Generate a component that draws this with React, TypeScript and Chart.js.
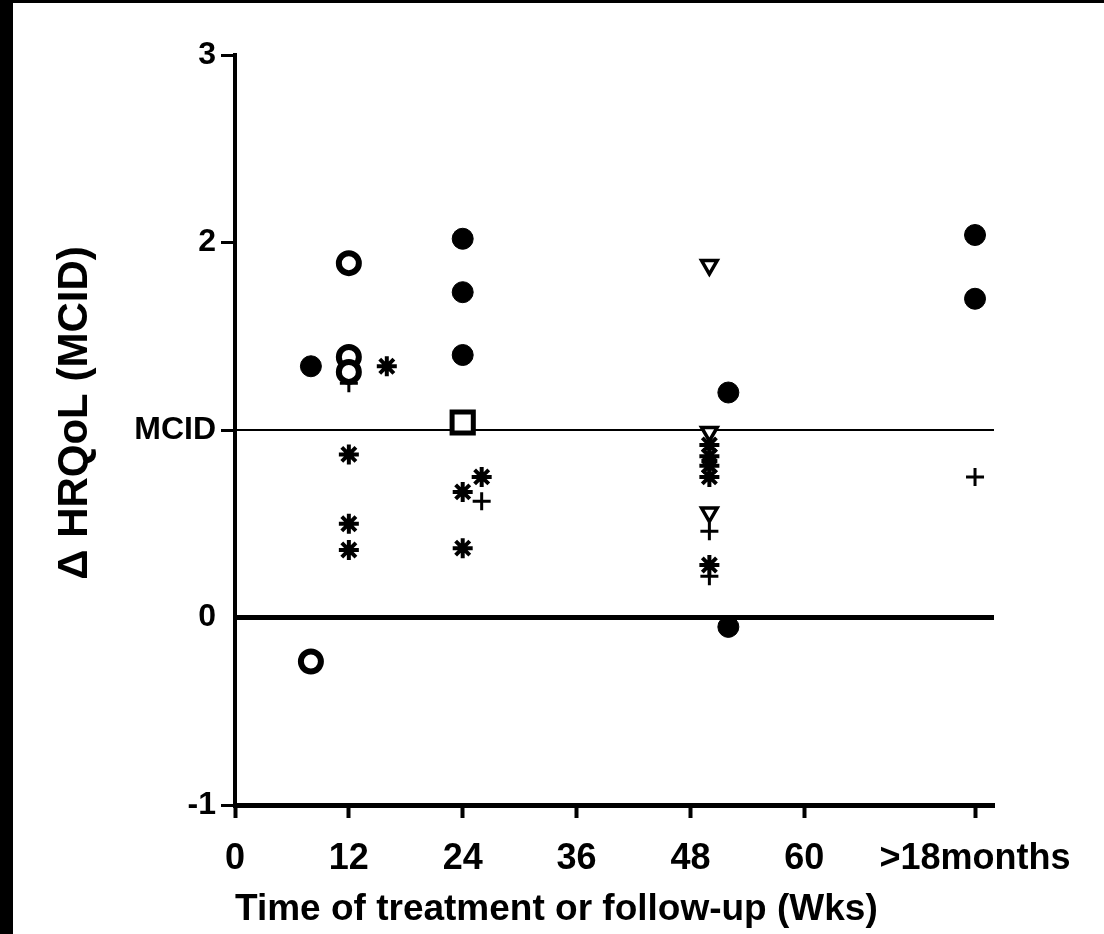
import { useEffect, useRef } from "react";
import { Chart, registerables } from "chart.js";

Chart.register(...registerables);

// Axis ticks: weeks on x (last tick is the 78-week / 18-month mark), MCID units on y
const xTickValues = [0, 12, 24, 36, 48, 60, 78];
const xTickLabels = ["0", "12", "24", "36", "48", "60", ">18months"];
const yTickValues = [-1, 0, 1, 2, 3];
const yTickLabels = ["-1", "0", "MCID", "2", "3"];

const xTitle = "Time of treatment or follow-up (Wks)";
const yTitle = "Δ HRQoL (MCID)";

const weekMin = 0;
const weekMax = 80;
const valueMin = -1;
const valueMax = 3;
const mcidLevel = 1;
const baselineLevel = 0;

// Study results grouped by marker
const filledCircleWeeks = [8, 24, 24, 24, 52, 52, 78, 78];
const filledCircleValues = [1.34, 2.02, 1.735, 1.4, 1.2, -0.05, 2.04, 1.7];

const openCircleWeeks = [8, 12, 12, 12];
const openCircleValues = [-0.235, 1.89, 1.39, 1.31];

const asteriskWeeks = [16, 12, 12, 12, 24, 24, 26, 50, 50, 50, 50, 50];
const asteriskValues = [1.34, 0.87, 0.5, 0.36, 0.67, 0.37, 0.75, 0.92, 0.86, 0.81, 0.75, 0.28];

const plusWeeks = [12, 26, 50, 50, 78];
const plusValues = [1.25, 0.62, 0.46, 0.22, 0.75];

const squareWeeks = [24];
const squareValues = [1.04];

const triangleWeeks = [50, 50, 50];
const triangleValues = [1.88, 0.99, 0.56];

const FONT = "'Liberation Sans', Arial, Helvetica, sans-serif";
const INK = "#000000";

const zip = (xs: number[], ys: number[]) => xs.map((x, i) => ({ x, y: ys[i] }));

// Vertical axis title, drawn a little above the middle of the plot height
const valueAxisTitle = {
  id: "valueAxisTitle",
  afterDraw(chart: any) {
    const { ctx, chartArea } = chart;
    ctx.save();
    ctx.translate(62, (chartArea.top + chartArea.bottom) / 2 - 17);
    ctx.rotate(-Math.PI / 2);
    ctx.font = `bold 42px ${FONT}`;
    ctx.fillStyle = INK;
    ctx.textAlign = "center";
    ctx.textBaseline = "middle";
    ctx.fillText(yTitle, 0, 0);
    ctx.restore();
  },
};

export default function App() {
  const canvasRef = useRef<HTMLCanvasElement | null>(null);

  useEffect(() => {
    const canvas = canvasRef.current;
    if (!canvas) return;

    const chart = new Chart(canvas, {
      type: "scatter",
      data: {
        datasets: [
          {
            label: "filled circle",
            data: zip(filledCircleWeeks, filledCircleValues),
            pointStyle: "circle",
            pointRadius: 10.5,
            pointBackgroundColor: INK,
            pointBorderColor: INK,
            pointBorderWidth: 1,
          },
          {
            label: "open circle",
            data: zip(openCircleWeeks, openCircleValues),
            pointStyle: "circle",
            pointRadius: 10,
            pointBackgroundColor: "#ffffff",
            pointBorderColor: INK,
            pointBorderWidth: 6,
          },
          {
            label: "square",
            data: zip(squareWeeks, squareValues),
            pointStyle: "rect",
            pointRadius: 15,
            pointBackgroundColor: "#ffffff",
            pointBorderColor: INK,
            pointBorderWidth: 5,
          },
          {
            label: "triangle",
            data: zip(triangleWeeks, triangleValues),
            pointStyle: "triangle",
            pointRotation: 180,
            pointRadius: 9,
            pointBackgroundColor: "#ffffff",
            pointBorderColor: INK,
            pointBorderWidth: 3.5,
          },
          {
            label: "asterisk",
            data: zip(asteriskWeeks, asteriskValues),
            pointStyle: "star",
            pointRadius: 10,
            pointBackgroundColor: INK,
            pointBorderColor: INK,
            pointBorderWidth: 4,
          },
          {
            label: "plus",
            data: zip(plusWeeks, plusValues),
            pointStyle: "cross",
            pointRadius: 9,
            pointBackgroundColor: INK,
            pointBorderColor: INK,
            pointBorderWidth: 3,
          },
          {
            type: "line",
            label: "MCID",
            data: [
              { x: weekMin, y: mcidLevel },
              { x: weekMax, y: mcidLevel },
            ],
            borderColor: INK,
            borderWidth: 2,
            pointRadius: 0,
            fill: false,
          },
          {
            type: "line",
            label: "baseline",
            data: [
              { x: weekMin, y: baselineLevel },
              { x: weekMax, y: baselineLevel },
            ],
            borderColor: INK,
            borderWidth: 5,
            pointRadius: 0,
            fill: false,
          },
        ],
      },
      options: {
        responsive: false,
        animation: false,
        devicePixelRatio: 1,
        layout: { padding: { top: 52, right: 110, left: 0, bottom: 0 } },
        plugins: {
          legend: { display: false },
          tooltip: { enabled: false },
        },
        scales: {
          x: {
            type: "linear",
            min: weekMin,
            max: weekMax,
            afterBuildTicks: (scale: any) => {
              scale.ticks = xTickValues.map((value) => ({ value }));
            },
            afterFit: (scale: any) => {
              scale.height = 129;
            },
            ticks: {
              autoSkip: false,
              maxRotation: 0,
              padding: 19,
              color: INK,
              font: { family: FONT, size: 36, weight: "bold" },
              callback: (value: any) => {
                const i = xTickValues.indexOf(Number(value));
                return i >= 0 ? xTickLabels[i] : "";
              },
            },
            grid: {
              display: true,
              drawOnChartArea: false,
              drawTicks: true,
              tickLength: 13,
              tickWidth: 4,
              tickColor: INK,
            },
            border: { display: true, width: 5, color: INK },
            title: {
              display: true,
              text: xTitle,
              align: "start",
              color: INK,
              font: { family: FONT, size: 37, weight: "bold" },
              padding: { top: 0, bottom: 2 },
            },
          },
          y: {
            type: "linear",
            min: valueMin,
            max: valueMax,
            afterBuildTicks: (scale: any) => {
              scale.ticks = yTickValues.map((value) => ({ value }));
            },
            afterFit: (scale: any) => {
              scale.width = 222;
            },
            ticks: {
              padding: 5,
              color: INK,
              font: { family: FONT, size: 32, weight: "bold" },
              callback: (value: any) => {
                const i = yTickValues.indexOf(Number(value));
                return i >= 0 ? yTickLabels[i] : "";
              },
            },
            grid: {
              display: true,
              drawOnChartArea: false,
              drawTicks: true,
              tickLength: 14,
              tickWidth: 3,
              tickColor: (ctx: any) =>
                ctx.tick && ctx.tick.value === baselineLevel ? "rgba(0,0,0,0)" : INK,
            },
            border: { display: true, width: 4, color: INK },
            title: { display: false },
          },
        },
      },
      plugins: [valueAxisTitle],
    } as any);

    return () => chart.destroy();
  }, []);

  return (
    <div
      style={{
        position: "fixed",
        left: 0,
        top: 0,
        width: 1104,
        height: 934,
        background: "#000000",
        overflow: "hidden",
      }}
    >
      <div
        style={{
          position: "absolute",
          left: 13,
          top: 3,
          width: 1091,
          height: 931,
          background: "#ffffff",
        }}
      >
        <canvas ref={canvasRef} width={1091} height={931} style={{ display: "block" }} />
      </div>
    </div>
  );
}
